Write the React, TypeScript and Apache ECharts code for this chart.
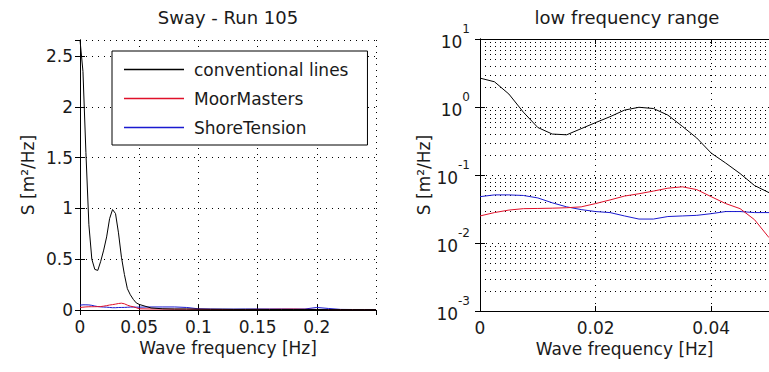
import React, { useEffect, useRef } from 'react';
import * as echarts from 'echarts';

const FREQ = [
  0, 0.0025, 0.005, 0.0075, 0.01, 0.0125, 0.015, 0.0175, 0.02, 0.0225, 0.025,
  0.0275, 0.03, 0.0325, 0.035, 0.0375, 0.04, 0.0425, 0.045, 0.0475, 0.05,
  0.06, 0.07, 0.08, 0.09, 0.1, 0.11, 0.12, 0.13, 0.14, 0.15,
  0.16, 0.17, 0.18, 0.19, 0.2, 0.21, 0.22, 0.23, 0.24, 0.25,
];
const CONVENTIONAL = [
  2.66, 2.35, 1.55, 0.84, 0.5, 0.4, 0.39, 0.48, 0.59, 0.72, 0.9,
  0.99, 0.95, 0.76, 0.52, 0.35, 0.21, 0.15, 0.105, 0.07, 0.055,
  0.02, 0.012, 0.01, 0.01, 0.008, 0.007, 0.007, 0.006, 0.006, 0.006,
  0.005, 0.005, 0.005, 0.005, 0.005, 0.004, 0.004, 0.004, 0.004, 0.004,
];
const MOORMASTERS = [
  0.025, 0.028, 0.0305, 0.032, 0.0322, 0.0325, 0.033, 0.034, 0.038, 0.043, 0.049,
  0.053, 0.058, 0.064, 0.067, 0.061, 0.048, 0.038, 0.032, 0.022, 0.012,
  0.01, 0.009, 0.008, 0.008, 0.007, 0.006, 0.005, 0.005, 0.005, 0.006,
  0.007, 0.008, 0.009, 0.007, 0.005, 0.004, 0.004, 0.004, 0.004, 0.004,
];
const SHORETENSION = [
  0.048, 0.051, 0.051, 0.05, 0.046, 0.039, 0.034, 0.031, 0.029, 0.028, 0.025,
  0.0225, 0.0225, 0.0245, 0.025, 0.0255, 0.027, 0.029, 0.029, 0.028, 0.028,
  0.03, 0.03, 0.03, 0.025, 0.012, 0.01, 0.009, 0.009, 0.01, 0.01,
  0.01, 0.01, 0.009, 0.01, 0.025, 0.015, 0.006, 0.005, 0.005, 0.005,
];
const SERIES_NAMES = ['conventional lines', 'MoorMasters', 'ShoreTension'];
const SERIES_COLORS = ['#000000', '#e0102a', '#1a1ad0'];
const TITLES = ['Sway - Run 105', 'low frequency range'];
const X_NAME = 'Wave frequency [Hz]';
const Y_NAME = 'S [m²/Hz]';
const LOG_DECADES = [0.001, 0.01, 0.1, 1];
const MINOR_MULTIPLIERS = [2, 3, 4, 5, 6, 7, 8, 9];

const FONT = "'DejaVu Sans', sans-serif";
const TXT = '#1a1a1a';

export default function App() {
  const ref = useRef<HTMLDivElement>(null);
  useEffect(() => {
    if (!ref.current) return;
    const chart = echarts.init(ref.current, undefined, { renderer: 'svg' });
    const values = [CONVENTIONAL, MOORMASTERS, SHORETENSION];
    const pairs = values.map((arr) => FREQ.map((f, i) => [f, arr[i]]));
    const minorLines: number[] = [];
    LOG_DECADES.forEach((d) => MINOR_MULTIPLIERS.forEach((m) => minorLines.push(d * m)));

    const dotted = { color: '#000', width: 1, type: [1, 5] as any };
    const axisLine = { show: true, lineStyle: { color: '#000', width: 1 } };
    const tick = { show: true, inside: true, length: 5, lineStyle: { color: '#000' } };
    const label = { color: TXT, fontSize: 17, fontFamily: FONT };
    const nameStyle = { color: TXT, fontSize: 17, fontFamily: FONT };

    const series: any[] = [];
    [0, 2].forEach((axisIdx) => {
      pairs.forEach((d, i) => {
        series.push({
          name: SERIES_NAMES[i],
          type: 'line',
          xAxisIndex: axisIdx,
          yAxisIndex: axisIdx,
          data: d,
          symbol: 'none',
          lineStyle: { color: SERIES_COLORS[i], width: 1 },
          itemStyle: { color: SERIES_COLORS[i] },
          z: 5 - i,
        });
      });
    });
    series.push({
      type: 'custom',
      xAxisIndex: 2,
      yAxisIndex: 2,
      silent: true,
      z: 1,
      data: minorLines.map((v) => [0, v]),
      renderItem: (params: any, api: any) => {
        const cs = params.coordSys;
        const y = Math.round(api.coord([0, api.value(1)])[1]) + 0.5;
        return {
          type: 'line',
          shape: { x1: cs.x, y1: y, x2: cs.x + cs.width, y2: y },
          style: { stroke: '#000', lineWidth: 1, lineDash: [1, 4] },
        };
      },
    });

    chart.setOption({
      animation: false,
      backgroundColor: '#fff',
      title: [
        { text: TITLES[0], left: 228, top: 8, textAlign: 'center', padding: 0, textStyle: { ...nameStyle, fontSize: 18, fontWeight: 'normal' } },
        { text: TITLES[1], left: 627, top: 8, textAlign: 'center', padding: 0, textStyle: { ...nameStyle, fontSize: 18, fontWeight: 'normal' } },
      ],
      legend: {
        data: SERIES_NAMES.map((n, i) => ({ name: n, icon: 'rect', itemStyle: { color: SERIES_COLORS[i] } })),
        orient: 'vertical',
        left: 112,
        top: 51,
        itemWidth: 60,
        itemHeight: 1.5,
        itemGap: 12,
        padding: [10, 19, 9, 12],
        borderColor: '#000',
        borderWidth: 1,
        backgroundColor: '#fff',
        selectedMode: false,
        textStyle: { ...label, padding: [0, 0, 0, 5] },
        z: 10,
      },
      grid: [
        { left: 80, top: 40, width: 296, height: 270, show: false },
        { left: 480, top: 39, width: 294, height: 272, show: false },
      ],
      xAxis: [
        {
          type: 'value', gridIndex: 0, min: 0, max: 0.25, interval: 0.05,
          axisLine, axisTick: tick,
          axisLabel: { ...label, margin: 8, showMaxLabel: false },
          splitLine: { show: true, lineStyle: dotted },
          name: X_NAME, nameLocation: 'middle', nameGap: 26, nameTextStyle: nameStyle,
        },
        {
          type: 'value', gridIndex: 0, position: 'top', min: 0, max: 0.25, interval: 0.05,
          axisLine, axisTick: tick, axisLabel: { show: false }, splitLine: { show: false },
        },
        {
          type: 'value', gridIndex: 1, min: 0, max: 0.05, interval: 0.02,
          axisLine, axisTick: tick,
          axisLabel: { ...label, margin: 8, showMaxLabel: false },
          splitLine: { show: true, lineStyle: dotted },
          name: X_NAME, nameLocation: 'middle', nameGap: 26, nameTextStyle: nameStyle,
        },
        {
          type: 'value', gridIndex: 1, position: 'top', min: 0, max: 0.05, interval: 0.02,
          axisLine, axisTick: tick, axisLabel: { show: false }, splitLine: { show: false },
        },
      ],
      yAxis: [
        {
          type: 'value', gridIndex: 0, min: 0, max: 2.66, interval: 0.5,
          axisLine, axisTick: tick,
          axisLabel: { ...label, margin: 7, showMaxLabel: false },
          splitLine: { show: true, lineStyle: dotted },
          name: Y_NAME, nameLocation: 'middle', nameGap: 44, nameTextStyle: nameStyle,
        },
        {
          type: 'value', gridIndex: 0, position: 'right', min: 0, max: 2.66, interval: 0.5,
          axisLine, axisTick: tick, axisLabel: { show: false }, splitLine: { show: false },
        },
        {
          type: 'log', logBase: 10, gridIndex: 1, min: 0.001, max: 10,
          axisLine, axisTick: tick,
          axisLabel: {
            margin: 10,
            formatter: (v: number) => `{b|10}{s|${Math.round(Math.log10(v))}}`,
            rich: {
              b: { fontSize: 17, fontFamily: FONT, color: TXT, padding: [6, 0, 0, 0] },
              s: { fontSize: 12, fontFamily: FONT, color: TXT, padding: [0, 0, 20, 0] },
            },
          },
          splitLine: { show: true, lineStyle: dotted },
          name: Y_NAME, nameLocation: 'middle', nameGap: 47, nameTextStyle: nameStyle,
        },
        {
          type: 'log', logBase: 10, gridIndex: 1, position: 'right', min: 0.001, max: 10,
          axisLine, axisTick: tick, axisLabel: { show: false }, splitLine: { show: false },
        },
      ],
      series,
    });
    return () => chart.dispose();
  }, []);
  return (
    <div
      ref={ref}
      style={{ position: 'fixed', left: 0, top: 0, width: 769, height: 372, background: '#fff' }}
    />
  );
}
